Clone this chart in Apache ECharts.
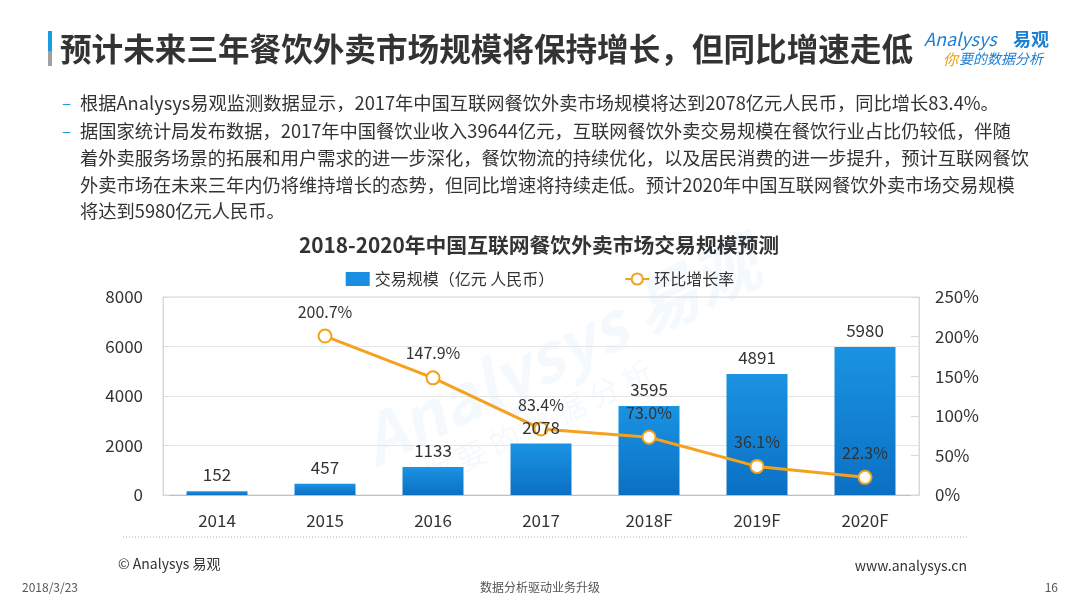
<!DOCTYPE html>
<html>
<head>
<meta charset="utf-8">
<script src="https://cdn.jsdelivr.net/npm/echarts@6/dist/echarts.min.js"></script>
<style>
html,body{margin:0;padding:0;background:#fff;}
#main{width:1080px;height:608px;}
</style>
</head>
<body>
<div id="main"></div>
<script>
var categories = ['2014', '2015', '2016', '2017', '2018F', '2019F', '2020F'];
var scaleValues = [152, 457, 1133, 2078, 3595, 4891, 5980];
var growthValues = [null, 200.7, 147.9, 83.4, 73.0, 36.1, 22.3];
var leftTicks = [0, 2000, 4000, 6000, 8000];
var rightTicks = [0, 50, 100, 150, 200, 250];

var pageTitle = '预计未来三年餐饮外卖市场规模将保持增长，但同比增速走低';
var chartTitle = '2018-2020年中国互联网餐饮外卖市场交易规模预测';
var seriesNames = ['交易规模（亿元 人民币）', '环比增长率'];
var bulletLines = [
  {dash: true, text: '根据Analysys易观监测数据显示，2017年中国互联网餐饮外卖市场规模将达到2078亿元人民币，同比增长83.4%。'},
  {dash: true, text: '据国家统计局发布数据，2017年中国餐饮业收入39644亿元，互联网餐饮外卖交易规模在餐饮行业占比仍较低，伴随'},
  {dash: false, text: '着外卖服务场景的拓展和用户需求的进一步深化，餐饮物流的持续优化，以及居民消费的进一步提升，预计互联网餐饮'},
  {dash: false, text: '外卖市场在未来三年内仍将维持增长的态势，但同比增速将持续走低。预计2020年中国互联网餐饮外卖市场交易规模'},
  {dash: false, text: '将达到5980亿元人民币。'}
];

var FONT = '"Noto Sans CJK SC", "Noto Sans", sans-serif';
var ORANGE = '#F4A11D';
var TXT = '#333333';

var chart = echarts.init(document.getElementById('main'), null, {renderer: 'canvas'});

var graphics = [
  {type: 'rect', shape: {x: 48, y: 31, width: 4, height: 20}, style: {fill: '#1b9ce0'}},
  {type: 'rect', shape: {x: 48, y: 51, width: 4, height: 15}, style: {fill: '#a0a0a0'}},
  {type: 'text', style: {text: pageTitle, x: 60, y: 49, font: 'bold 31.6px ' + FONT, fill: '#333', textVerticalAlign: 'middle'}},
  {type: 'text', style: {text: 'Analysys', x: 924, y: 39, font: 'italic 18px ' + FONT, fill: '#1b7fd4', textVerticalAlign: 'middle'}},
  {type: 'text', style: {text: '易观', x: 1013, y: 39, font: 'bold 18px ' + FONT, fill: '#1b7fd4', textVerticalAlign: 'middle'}},
  {type: 'text', style: {text: '你', x: 943, y: 59, font: 'italic 15px ' + FONT, fill: '#f39c12', textVerticalAlign: 'middle'}},
  {type: 'text', style: {text: '要的数据分析', x: 959, y: 59, font: 'italic 14px ' + FONT, fill: '#1b7fd4', textVerticalAlign: 'middle'}},
  {type: 'text', style: {text: chartTitle, x: 539, y: 245, font: 'bold 20.8px ' + FONT, fill: '#333', textAlign: 'center', textVerticalAlign: 'middle'}},
  // watermark
  {type: 'text', rotation: 0.45, x: 365, y: 445, z: 0, style: {text: 'Analysys 易观', x: 0, y: 0, font: 'italic bold 66px ' + FONT, fill: 'rgba(30,144,226,0.05)', textAlign: 'left', textVerticalAlign: 'middle'}},
  {type: 'text', rotation: 0.45, x: 425, y: 478, z: 0, style: {text: '你 要 的 数 据 分 析', x: 0, y: 0, font: '30px ' + FONT, fill: 'rgba(30,144,226,0.05)', textAlign: 'left', textVerticalAlign: 'middle'}},
  // separator
  {type: 'line', shape: {x1: 123, y1: 537, x2: 967, y2: 537}, style: {stroke: '#b0b0b0', lineWidth: 1, lineDash: [1, 2]}},
  {type: 'text', style: {text: '© Analysys 易观', x: 118, y: 564, font: '14px ' + FONT, fill: '#333', textVerticalAlign: 'middle'}},
  {type: 'text', style: {text: 'www.analysys.cn', x: 967, y: 566, font: '14px ' + FONT, fill: '#333', textAlign: 'right', textVerticalAlign: 'middle'}},
  {type: 'text', style: {text: '2018/3/23', x: 22, y: 587, font: '12px ' + FONT, fill: '#555', textVerticalAlign: 'middle'}},
  {type: 'text', style: {text: '数据分析驱动业务升级', x: 540, y: 587, font: '12px ' + FONT, fill: '#555', textAlign: 'center', textVerticalAlign: 'middle'}},
  {type: 'text', style: {text: '16', x: 1058, y: 587, font: '12px ' + FONT, fill: '#555', textAlign: 'right', textVerticalAlign: 'middle'}}
];
var lineY = [103, 131, 158, 185, 211];
bulletLines.forEach(function (b, i) {
  if (b.dash) {
    graphics.push({type: 'text', style: {text: '–', x: 62, y: lineY[i], font: '17px ' + FONT, fill: '#1b9ce0', textVerticalAlign: 'middle'}});
  }
  graphics.push({type: 'text', style: {text: b.text, x: 80, y: lineY[i], font: '18.25px ' + FONT, fill: TXT, textVerticalAlign: 'middle'}});
});

var option = {
  backgroundColor: '#ffffff',
  animation: false,
  textStyle: {fontFamily: FONT},
  graphic: graphics,
  legend: {
    top: 266,
    left: 'center',
    itemGap: 70,
    itemWidth: 24,
    itemHeight: 14,
    textStyle: {fontSize: 16, color: TXT, fontFamily: FONT},
    data: [
      {name: seriesNames[0], icon: 'rect', itemStyle: {color: '#1a8ee0'}},
      {name: seriesNames[1]}
    ]
  },
  grid: {left: 163, right: 161, top: 297, bottom: 113, show: true, borderColor: '#d9d9d9', borderWidth: 1},
  xAxis: {
    type: 'category',
    data: categories,
    axisLine: {lineStyle: {color: '#bfbfbf'}},
    axisTick: {show: false},
    axisLabel: {fontSize: 17, color: TXT, margin: 17, fontFamily: FONT}
  },
  yAxis: [
    {
      type: 'value', min: leftTicks[0], max: leftTicks[leftTicks.length - 1], interval: 2000,
      axisLine: {show: true, lineStyle: {color: '#d9d9d9'}},
      axisTick: {show: true, inside: true, length: 6, lineStyle: {color: '#d9d9d9'}},
      splitLine: {lineStyle: {color: '#e6e6e6'}},
      axisLabel: {fontSize: 17, color: TXT, margin: 20, fontFamily: FONT, formatter: function (v) { return String(v); }}
    },
    {
      type: 'value', min: rightTicks[0], max: rightTicks[rightTicks.length - 1], interval: 50,
      axisLine: {show: true, lineStyle: {color: '#d9d9d9'}},
      axisTick: {show: true, inside: true, length: 8, lineStyle: {color: '#d9d9d9'}},
      splitLine: {show: false},
      axisLabel: {fontSize: 17, color: TXT, margin: 16, formatter: '{value}%', fontFamily: FONT}
    }
  ],
  series: [
    {
      name: seriesNames[0],
      type: 'bar',
      data: scaleValues,
      barWidth: 61,
      itemStyle: {
        color: new echarts.graphic.LinearGradient(0, 0, 0, 1, [
          {offset: 0, color: '#1b93e2'},
          {offset: 1, color: '#0b70c4'}
        ])
      },
      z: 2
    },
    {
      name: seriesNames[1],
      type: 'line',
      yAxisIndex: 1,
      data: growthValues,
      symbol: 'circle',
      symbolSize: 13,
      lineStyle: {color: ORANGE, width: 3},
      itemStyle: {color: '#ffffff', borderColor: ORANGE, borderWidth: 2},
      label: {show: true, position: 'top', distance: 9, fontSize: 16, color: TXT, formatter: function (p) { return p.value.toFixed(1) + '%'; }, fontFamily: FONT},
      z: 5
    },
    {
      name: 'barLabels',
      type: 'bar',
      data: scaleValues,
      barWidth: 61,
      barGap: '-100%',
      silent: true,
      itemStyle: {color: 'rgba(0,0,0,0)'},
      label: {show: true, position: 'top', distance: 8, fontSize: 17, color: TXT, fontFamily: FONT},
      z: 10
    }
  ]
};
chart.setOption(option);
</script>
</body>
</html>
